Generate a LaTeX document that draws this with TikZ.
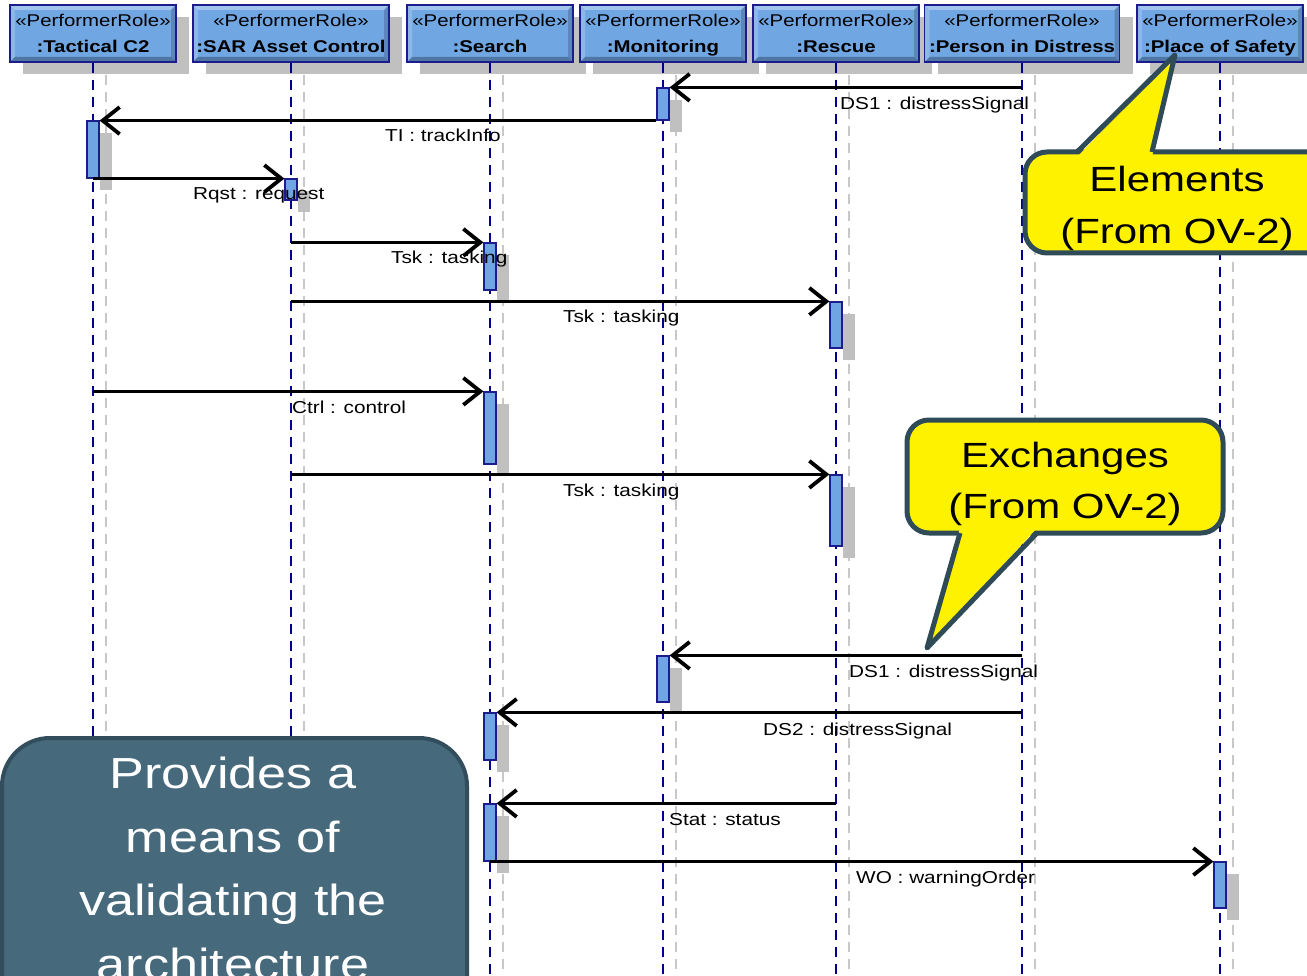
\documentclass[tikz,border=0pt]{standalone}
\usepackage{fontspec}
\setmainfont{Liberation Sans}[FakeStretch=1.2]
\usetikzlibrary{arrows.meta,shadows,calc}

\definecolor{hdrfill}{RGB}{112,166,226}
\definecolor{hdrline}{RGB}{28,28,140}
\definecolor{barfill}{RGB}{110,165,226}
\definecolor{lifenavy}{RGB}{0,0,140}
\definecolor{shadowgray}{RGB}{192,192,192}
\definecolor{lifegray}{RGB}{200,200,200}
\definecolor{calloutline}{RGB}{47,75,88}
\definecolor{infofill}{RGB}{70,105,124}
\definecolor{infoline}{RGB}{50,78,93}

\newcommand\hdrfont{\fontsize{17}{26}\selectfont}
\newcommand\lblfont{\fontsize{17.3}{20}\selectfont}
\newcommand\callfont{\fontsize{35}{42}\selectfont}
\newcommand\infofont{\fontsize{43.5}{52}\selectfont}

\begin{document}
\begin{tikzpicture}[x=1pt,y=-1pt,
  boxshadow/.style={drop shadow={shadow xshift=13pt,shadow yshift=-12pt,fill=shadowgray,opacity=1}},
  hdr/.style={draw=hdrline, line width=1.5pt, fill=hdrfill, inner sep=0pt,
    minimum height=57pt, align=center, font=\hdrfont, text depth=0pt, boxshadow,
    path picture={
      \path (path picture bounding box.north west) coordinate (pa)
            (path picture bounding box.north east) coordinate (pb)
            (path picture bounding box.south east) coordinate (pc)
            (path picture bounding box.south west) coordinate (pd);
      \fill[white,opacity=.35] (pa) -- (pb) -- ([shift={(-5pt,-5pt)}]pb) -- ([shift={(5pt,-5pt)}]pa) -- cycle;
      \fill[white,opacity=.2] (pa) -- ([shift={(5pt,-5pt)}]pa) -- ([shift={(5pt,5pt)}]pd) -- (pd) -- cycle;
      \fill[black,opacity=.28] (pd) -- (pc) -- ([shift={(-5pt,5pt)}]pc) -- ([shift={(5pt,5pt)}]pd) -- cycle;
      \fill[black,opacity=.18] (pb) -- (pc) -- ([shift={(-5pt,5pt)}]pc) -- ([shift={(-5pt,-5pt)}]pb) -- cycle;
    }},
  bar/.style={draw=hdrline, line width=1.2pt, fill=barfill, inner sep=0pt,
    minimum width=12pt, boxshadow},
  life/.style={draw=lifenavy, line width=2.4pt, dash pattern=on 10pt off 7pt},
  lifeshade/.style={draw=lifegray, line width=2.8pt, dash pattern=on 10pt off 7pt},
  msg/.style={draw=black, line width=2.6pt,
    -{Straight Barb[length=17pt,width=27pt,line width=3.8pt]}},
  lbl/.style={font=\lblfont, inner sep=0pt, anchor=base west},
  callout/.style={draw=calloutline, line width=5pt, fill=yellow, rounded corners=22pt, inner sep=0pt},
  calltext/.style={font=\callfont, inner sep=0pt, anchor=base},
  infobox/.style={draw=infoline, line width=4pt, fill=infofill, rounded corners=48pt, inner sep=0pt},
  infotext/.style={font=\infofont, text=white, inner sep=0pt, anchor=base}
]
\useasboundingbox (0,0) rectangle (1307,976);
\fill[white] (0,0) rectangle (1307,976);

% participants
\node[hdr, minimum width=166pt] (h1) at (93,33.5)   {«PerformerRole»\\\textbf{:Tactical C2}};
\node[hdr, minimum width=196pt] (h2) at (291,33.5)  {«PerformerRole»\\\textbf{:SAR Asset Control}};
\node[hdr, minimum width=166pt] (h3) at (490,33.5)  {«PerformerRole»\\\textbf{:Search}};
\node[hdr, minimum width=166pt] (h4) at (663,33.5)  {«PerformerRole»\\\textbf{:Monitoring}};
\node[hdr, minimum width=166pt] (h5) at (836,33.5)  {«PerformerRole»\\\textbf{:Rescue}};
\node[hdr, minimum width=195pt] (h6) at (1022,33.5) {«PerformerRole»\\\textbf{:Person in Distress}};
\node[hdr, minimum width=166pt] (h7) at (1220,33.5) {«PerformerRole»\\\textbf{:Place of Safety}};

% lifelines and their shadows
\foreach \h in {h1,h2,h3,h4,h5,h6,h7}{
  \draw[lifeshade] ($(\h.south)+(13,12)$) -- ++(0,910);
  \draw[life] (\h.south) -- ++(0,920);
}

% activations
\node[bar, minimum height=32pt] (b1)  at (663,104)   {};
\node[bar, minimum height=57pt] (b2)  at (93,149.5)  {};
\node[bar, minimum height=21pt] (b3)  at (291,189.5) {};
\node[bar, minimum height=47pt] (b4)  at (490,266.5) {};
\node[bar, minimum height=46pt] (b5)  at (836,325)   {};
\node[bar, minimum height=72pt] (b6)  at (490,428)   {};
\node[bar, minimum height=71pt] (b7)  at (836,510.5) {};
\node[bar, minimum height=46pt] (b8)  at (663,679)   {};
\node[bar, minimum height=47pt] (b9)  at (490,736.5) {};
\node[bar, minimum height=57pt] (b10) at (490,832.5) {};
\node[bar, minimum height=46pt] (b11) at (1220,885)  {};

% messages
\draw[msg] (h6 |- b1.north east) -- (b1.north east);
\draw[msg] (b1.south west) -- (b1.south west -| b2.east);
\draw[msg] (b2.south) -- (b2.south -| b3.west);
\draw[msg] (h2 |- b4.north west) -- (b4.north west);
\draw[msg] (h2 |- b5.north west) -- (b5.north west);
\draw[msg] (h1 |- b6.north west) -- (b6.north west);
\draw[msg] (h2 |- b7.north west) -- (b7.north west);
\draw[msg] (h6 |- b8.north east) -- (b8.north east);
\draw[msg] (h6 |- b9.north east) -- (b9.north east);
\draw[msg] (h5 |- b10.north east) -- (b10.north east);
\draw[msg] (b10.south) -- (b10.south -| b11.west);

% message labels
\node[lbl] (l1)  at (840,110) {DS1 : distressSignal};
\node[lbl] (l2)  at (385,142) {TI : trackInfo};
\node[lbl] (l3)  at (193,200) {Rqst : request};
\node[lbl] (l4)  at (391,264) {Tsk : tasking};
\node[lbl] (l5)  at (563,323) {Tsk : tasking};
\node[lbl] (l6)  at (292,413) {Ctrl : control};
\node[lbl] (l7)  at (563,496) {Tsk : tasking};
\node[lbl] (l8)  at (849,677) {DS1 : distressSignal};
\node[lbl] (l9)  at (763,735) {DS2 : distressSignal};
\node[lbl] (l10) at (669,825) {Stat : status};
\node[lbl] (l11) at (856,883) {WO : warningOrder};

% callout: elements
\node[callout, minimum width=304pt, minimum height=101pt] (c1) at (1177,202.5) {};
\coordinate (tip1) at (1175,55);
\fill[yellow] (1077,157) -- (tip1) -- (1152,157) -- cycle;
\draw[calloutline, line width=5pt, line join=round] (1077,152) -- (tip1) -- (1152,152);
\node[calltext] (c1a) at (1177,192) {Elements};
\node[calltext] (c1b) at (1177,244) {(From OV-2)};

% callout: exchanges
\node[callout, minimum width=316pt, minimum height=113pt] (c2) at (1065,476.5) {};
\coordinate (tip2) at (927,648);
\fill[yellow] (960,528) -- (tip2) -- (1037,528) -- cycle;
\draw[calloutline, line width=5pt, line join=round] (960,533) -- (tip2) -- (1037,533);
\node[calltext] (c2a) at (1065,467) {Exchanges};
\node[calltext] (c2b) at (1065,518) {(From OV-2)};

% note box
\node[infobox, minimum width=465pt, minimum height=302pt] (ib) at (234.5,889) {};
\node[infotext] (t1) at (233,788) {Provides a};
\node[infotext] (t2) at (233,852) {means of};
\node[infotext] (t3) at (233,915) {validating the};
\node[infotext] (t4) at (233,979) {architecture};
\end{tikzpicture}
\end{document}
